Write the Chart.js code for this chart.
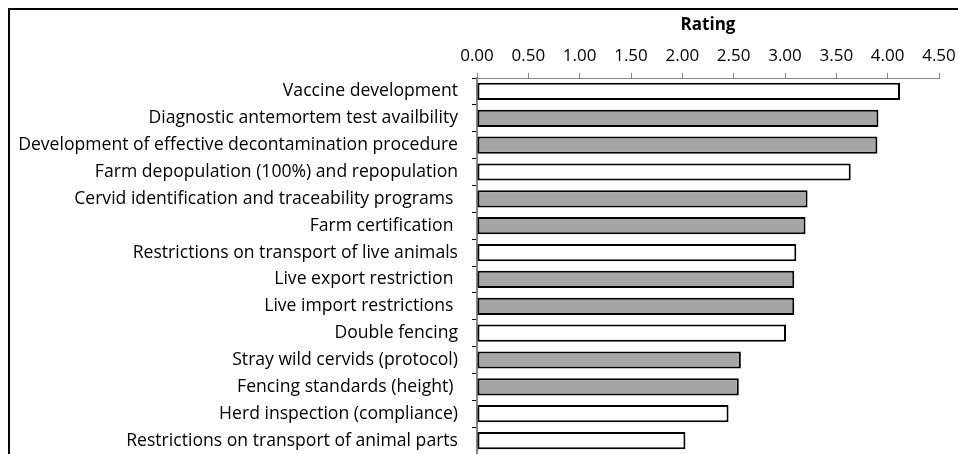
<!DOCTYPE html>
<html>
<head>
<meta charset="utf-8">
<script src="https://cdn.jsdelivr.net/npm/chart.js@4.4.1/dist/chart.umd.min.js"></script>
<style>
  body { margin: 0; background: #fff; }
  #wrap { position: relative; width: 958px; height: 454px; overflow: hidden; }
  #frame { position: absolute; left: 8px; top: 8px; width: 980px; height: 480px;
           border-left: 2px solid #000; border-top: 2px solid #000; }
  canvas { position: absolute; left: 0; top: 0; }
</style>
</head>
<body>
<div id="wrap">
  <div id="frame"></div>
  <canvas id="chartRating" width="958" height="454"></canvas>
</div>
<script>
const categorias = [
  'Vaccine development',
  'Diagnostic antemortem test availbility',
  'Development of effective decontamination procedure',
  'Farm depopulation (100%) and repopulation',
  'Cervid identification and traceability programs ',
  'Farm certification ',
  'Restrictions on transport of live animals',
  'Live export restriction ',
  'Live import restrictions ',
  'Double fencing',
  'Stray wild cervids (protocol)',
  'Fencing standards (height) ',
  'Herd inspection (compliance)',
  'Restrictions on transport of animal parts'
];
const ratings = [4.12, 3.91, 3.90, 3.64, 3.22, 3.20, 3.11, 3.09, 3.09, 3.01, 2.57, 2.55, 2.45, 2.03];
// 1 = grey bar, 0 = white bar
const sombreado = [0, 1, 1, 0, 1, 1, 0, 1, 1, 0, 1, 1, 0, 0];
const ticksX = [0, 0.5, 1, 1.5, 2, 2.5, 3, 3.5, 4, 4.5];

const fuente = "'Open Sans', Lato, sans-serif";
Chart.defaults.font.family = fuente;
Chart.defaults.color = '#000';

new Chart(document.getElementById('chartRating'), {
  type: 'bar',
  data: {
    labels: categorias,
    datasets: [{
      label: 'Rating',
      data: ratings,
      backgroundColor: sombreado.map(s => s ? '#a6a6a6' : '#ffffff'),
      borderColor: '#000',
      borderWidth: 2,
      borderSkipped: false,
      categoryPercentage: 1,
      barPercentage: 0.64
    }]
  },
  options: {
    indexAxis: 'y',
    responsive: false,
    animation: false,
    layout: { padding: { left: 0, right: 19, top: 12, bottom: 0 } },
    plugins: { legend: { display: false }, tooltip: { enabled: false } },
    scales: {
      x: {
        position: 'top',
        min: 0,
        max: 4.5,
        afterBuildTicks: s => { s.ticks = ticksX.map(v => ({ value: v })); },
        afterFit: s => { s.height = 66; s.paddingLeft = 0; s.paddingRight = 0; },
        ticks: {
          font: { size: 17 },
          padding: 7,
          callback: v => Number(v).toFixed(2)
        },
        title: { display: true, text: 'Rating', font: { size: 17, weight: 'bold' }, padding: { top: 3, bottom: 0 } },
        grid: { drawOnChartArea: false, tickLength: 5, color: '#868686' },
        border: { color: '#868686', width: 1 }
      },
      y: {
        afterFit: s => { s.width = 477; s.paddingTop = 0; s.paddingBottom = 0; },
        ticks: { font: { size: 17.6 }, padding: 14, autoSkip: false },
        grid: { offset: true, drawOnChartArea: false, tickLength: 5, color: '#000' },
        border: { color: '#868686', width: 2 }
      }
    }
  }
});
</script>
</body>
</html>
